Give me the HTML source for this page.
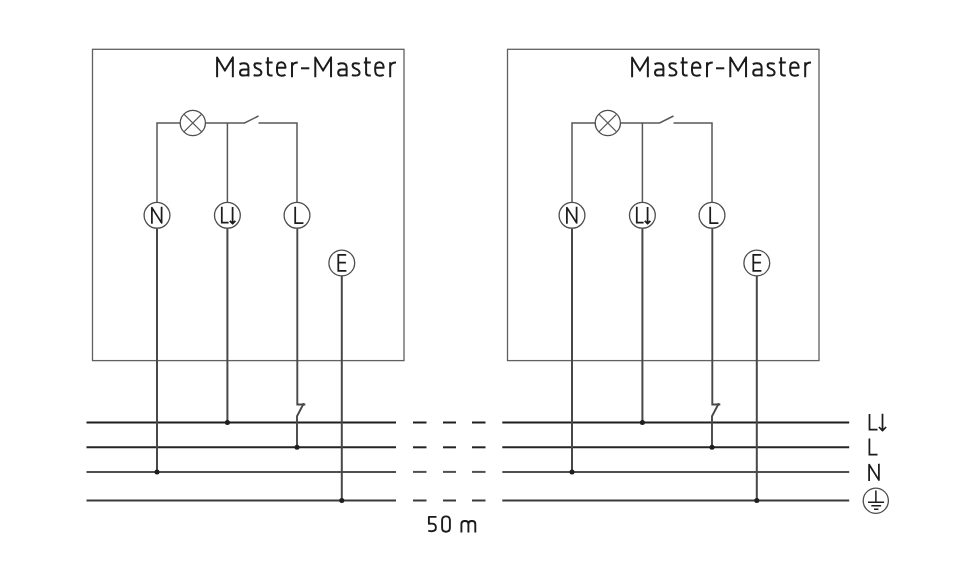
<!DOCTYPE html>
<html><head><meta charset="utf-8"><style>
html,body{margin:0;padding:0;background:#fff;}
svg{display:block;}
</style></head><body>
<svg width="970" height="587" viewBox="0 0 970 587">
<rect width="970" height="587" fill="#fff"/>
<line x1="86.50" y1="422.50" x2="396.00" y2="422.50" stroke="#1e1e1e" stroke-width="2.0"/>
<line x1="413.00" y1="422.50" x2="426.50" y2="422.50" stroke="#1e1e1e" stroke-width="2.0"/>
<line x1="443.00" y1="422.50" x2="456.00" y2="422.50" stroke="#1e1e1e" stroke-width="2.0"/>
<line x1="472.00" y1="422.50" x2="485.50" y2="422.50" stroke="#1e1e1e" stroke-width="2.0"/>
<line x1="502.30" y1="422.50" x2="849.20" y2="422.50" stroke="#1e1e1e" stroke-width="2.0"/>
<line x1="86.50" y1="447.30" x2="396.00" y2="447.30" stroke="#242424" stroke-width="2.0"/>
<line x1="413.00" y1="447.30" x2="426.50" y2="447.30" stroke="#242424" stroke-width="2.0"/>
<line x1="443.00" y1="447.30" x2="456.00" y2="447.30" stroke="#242424" stroke-width="2.0"/>
<line x1="472.00" y1="447.30" x2="485.50" y2="447.30" stroke="#242424" stroke-width="2.0"/>
<line x1="502.30" y1="447.30" x2="849.20" y2="447.30" stroke="#242424" stroke-width="2.0"/>
<line x1="86.50" y1="471.90" x2="396.00" y2="471.90" stroke="#505050" stroke-width="2.0"/>
<line x1="413.00" y1="471.90" x2="426.50" y2="471.90" stroke="#505050" stroke-width="2.0"/>
<line x1="443.00" y1="471.90" x2="456.00" y2="471.90" stroke="#505050" stroke-width="2.0"/>
<line x1="472.00" y1="471.90" x2="485.50" y2="471.90" stroke="#505050" stroke-width="2.0"/>
<line x1="502.30" y1="471.90" x2="849.20" y2="471.90" stroke="#505050" stroke-width="2.0"/>
<line x1="86.50" y1="500.50" x2="396.00" y2="500.50" stroke="#3a3a3a" stroke-width="2.0"/>
<line x1="413.00" y1="500.50" x2="426.50" y2="500.50" stroke="#3a3a3a" stroke-width="2.0"/>
<line x1="443.00" y1="500.50" x2="456.00" y2="500.50" stroke="#3a3a3a" stroke-width="2.0"/>
<line x1="472.00" y1="500.50" x2="485.50" y2="500.50" stroke="#3a3a3a" stroke-width="2.0"/>
<line x1="502.30" y1="500.50" x2="849.20" y2="500.50" stroke="#3a3a3a" stroke-width="2.0"/>
<g transform="translate(0 0)">
<rect x="92.5" y="49.3" width="311.5" height="311.3" fill="none" stroke="#606060" stroke-width="1.3"/>
<g transform="translate(0 0)">
<path d="M217.1,77.3 V57.4 L224.9,70.6 L232.85,57.4 V77.3 M239.6,64.3 C240.8,63.5 242.2,63.3 243.8,63.3 C246.8,63.3 248.4,64.6 248.4,67.6 V76.5 M248.4,69.6 H243.6 C241.2,69.6 240,70.9 240,72.7 C240,74.6 241.3,75.6 243.6,75.6 C245.8,75.6 247.4,75.2 248.4,74.6 M261.5,63.9 C260.3,63.4 258.6,63.3 257,63.3 C255.2,63.3 254.4,64.4 254.4,65.6 C254.4,67.3 255.8,68.2 257.8,68.9 C260.3,69.8 261.4,70.8 261.4,72.6 C261.4,74.6 260,75.6 257.5,75.6 C255.8,75.6 254.7,75.4 253.7,75 M267.9,57.2 V72.8 C267.9,74.8 268.8,75.6 270.6,75.6 H272.6 M265.6,62.6 H272.6 M277.2,67.8 H285.5 C285.5,64.3 283.9,62.3 281.3,62.3 C278.6,62.3 277,64.3 277,67.5 V70.5 C277,73.9 278.7,75.7 281.6,75.7 C283.3,75.7 284.5,75.4 285.5,74.9 M292,77.3 V62.3 M292,66.5 C292.5,63.8 294.5,62.4 297.8,62.4" stroke="#1c1c1c" stroke-width="2.0" fill="none" stroke-linejoin="round"/>
</g>
<g transform="translate(98.2 0)">
<path d="M217.1,77.3 V57.4 L224.9,70.6 L232.85,57.4 V77.3 M239.6,64.3 C240.8,63.5 242.2,63.3 243.8,63.3 C246.8,63.3 248.4,64.6 248.4,67.6 V76.5 M248.4,69.6 H243.6 C241.2,69.6 240,70.9 240,72.7 C240,74.6 241.3,75.6 243.6,75.6 C245.8,75.6 247.4,75.2 248.4,74.6 M261.5,63.9 C260.3,63.4 258.6,63.3 257,63.3 C255.2,63.3 254.4,64.4 254.4,65.6 C254.4,67.3 255.8,68.2 257.8,68.9 C260.3,69.8 261.4,70.8 261.4,72.6 C261.4,74.6 260,75.6 257.5,75.6 C255.8,75.6 254.7,75.4 253.7,75 M267.9,57.2 V72.8 C267.9,74.8 268.8,75.6 270.6,75.6 H272.6 M265.6,62.6 H272.6 M277.2,67.8 H285.5 C285.5,64.3 283.9,62.3 281.3,62.3 C278.6,62.3 277,64.3 277,67.5 V70.5 C277,73.9 278.7,75.7 281.6,75.7 C283.3,75.7 284.5,75.4 285.5,74.9 M292,77.3 V62.3 M292,66.5 C292.5,63.8 294.5,62.4 297.8,62.4" stroke="#1c1c1c" stroke-width="2.0" fill="none" stroke-linejoin="round"/>
</g>
<path d="M301,68.3 H309.3" stroke="#1c1c1c" stroke-width="2.0" fill="none" />
<path d="M157.0,202.4 V122.9 H180.20000000000002" stroke="#585858" stroke-width="1.5" fill="none" />
<circle cx="192.80" cy="123.00" r="12.6" stroke="#4e4e4e" stroke-width="1.3" fill="none"/>
<path d="M183.89054000000002,114.09054 L201.70946,131.90946 M201.70946,114.09054 L183.89054000000002,131.90946" stroke="#585858" stroke-width="1.3" fill="none" />
<path d="M205.4,122.9 H244.6 L258.5,116.0" stroke="#585858" stroke-width="1.5" fill="none" />
<path d="M258.5,122.9 H297.0 V202.4" stroke="#585858" stroke-width="1.5" fill="none" />
<line x1="227.40" y1="122.90" x2="227.40" y2="202.40" stroke="#585858" stroke-width="1.5"/>
<circle cx="157.00" cy="215.30" r="12.9" stroke="#4e4e4e" stroke-width="1.3" fill="none"/>
<circle cx="227.40" cy="215.30" r="12.9" stroke="#4e4e4e" stroke-width="1.3" fill="none"/>
<circle cx="297.00" cy="215.30" r="12.9" stroke="#4e4e4e" stroke-width="1.3" fill="none"/>
<circle cx="341.80" cy="263.00" r="12.9" stroke="#4e4e4e" stroke-width="1.3" fill="none"/>
<line x1="157.00" y1="228.20" x2="157.00" y2="471.90" stroke="#484848" stroke-width="2.0"/>
<line x1="227.40" y1="228.20" x2="227.40" y2="422.50" stroke="#484848" stroke-width="2.0"/>
<line x1="341.80" y1="275.90" x2="341.80" y2="500.50" stroke="#484848" stroke-width="2.0"/>
<path d="M297.3,228.20000000000002 V404.5 H305.3" stroke="#484848" stroke-width="1.9" fill="none" />
<path d="M303.8,403.3 L297.0,416.3 V447.3" stroke="#484848" stroke-width="1.9" fill="none" stroke-linejoin="round"/>
<circle cx="157.00" cy="471.90" r="2.5" fill="#1e1e1e"/>
<circle cx="227.40" cy="422.50" r="2.5" fill="#1e1e1e"/>
<circle cx="297.00" cy="447.30" r="2.5" fill="#1e1e1e"/>
<circle cx="341.80" cy="500.50" r="2.5" fill="#1e1e1e"/>
<path d="M151.9,223.7 V207.6 L161.6,222.9 V206.8" stroke="#1c1c1c" stroke-width="1.75" fill="none" stroke-linejoin="round"/>
<path d="M295.2,206.8 V223 H303.4" stroke="#1c1c1c" stroke-width="1.75" fill="none" />
<path d="M221.8,206.8 V222.5 H228.6" stroke="#1c1c1c" stroke-width="1.75" fill="none" />
<path d="M232.6,207.1 V223.6 M229.8,220.9 L232.6,223.7 L235.4,220.9" stroke="#1c1c1c" stroke-width="1.75" fill="none" stroke-linejoin="round"/>
<path d="M346.2,254.8 H338.3 V270.8 H346.4 M338.3,262.5 H345.9" stroke="#1c1c1c" stroke-width="1.75" fill="none" />
</g>
<g transform="translate(415 0)">
<rect x="92.5" y="49.3" width="311.5" height="311.3" fill="none" stroke="#606060" stroke-width="1.3"/>
<g transform="translate(0 0)">
<path d="M217.1,77.3 V57.4 L224.9,70.6 L232.85,57.4 V77.3 M239.6,64.3 C240.8,63.5 242.2,63.3 243.8,63.3 C246.8,63.3 248.4,64.6 248.4,67.6 V76.5 M248.4,69.6 H243.6 C241.2,69.6 240,70.9 240,72.7 C240,74.6 241.3,75.6 243.6,75.6 C245.8,75.6 247.4,75.2 248.4,74.6 M261.5,63.9 C260.3,63.4 258.6,63.3 257,63.3 C255.2,63.3 254.4,64.4 254.4,65.6 C254.4,67.3 255.8,68.2 257.8,68.9 C260.3,69.8 261.4,70.8 261.4,72.6 C261.4,74.6 260,75.6 257.5,75.6 C255.8,75.6 254.7,75.4 253.7,75 M267.9,57.2 V72.8 C267.9,74.8 268.8,75.6 270.6,75.6 H272.6 M265.6,62.6 H272.6 M277.2,67.8 H285.5 C285.5,64.3 283.9,62.3 281.3,62.3 C278.6,62.3 277,64.3 277,67.5 V70.5 C277,73.9 278.7,75.7 281.6,75.7 C283.3,75.7 284.5,75.4 285.5,74.9 M292,77.3 V62.3 M292,66.5 C292.5,63.8 294.5,62.4 297.8,62.4" stroke="#1c1c1c" stroke-width="2.0" fill="none" stroke-linejoin="round"/>
</g>
<g transform="translate(98.2 0)">
<path d="M217.1,77.3 V57.4 L224.9,70.6 L232.85,57.4 V77.3 M239.6,64.3 C240.8,63.5 242.2,63.3 243.8,63.3 C246.8,63.3 248.4,64.6 248.4,67.6 V76.5 M248.4,69.6 H243.6 C241.2,69.6 240,70.9 240,72.7 C240,74.6 241.3,75.6 243.6,75.6 C245.8,75.6 247.4,75.2 248.4,74.6 M261.5,63.9 C260.3,63.4 258.6,63.3 257,63.3 C255.2,63.3 254.4,64.4 254.4,65.6 C254.4,67.3 255.8,68.2 257.8,68.9 C260.3,69.8 261.4,70.8 261.4,72.6 C261.4,74.6 260,75.6 257.5,75.6 C255.8,75.6 254.7,75.4 253.7,75 M267.9,57.2 V72.8 C267.9,74.8 268.8,75.6 270.6,75.6 H272.6 M265.6,62.6 H272.6 M277.2,67.8 H285.5 C285.5,64.3 283.9,62.3 281.3,62.3 C278.6,62.3 277,64.3 277,67.5 V70.5 C277,73.9 278.7,75.7 281.6,75.7 C283.3,75.7 284.5,75.4 285.5,74.9 M292,77.3 V62.3 M292,66.5 C292.5,63.8 294.5,62.4 297.8,62.4" stroke="#1c1c1c" stroke-width="2.0" fill="none" stroke-linejoin="round"/>
</g>
<path d="M301,68.3 H309.3" stroke="#1c1c1c" stroke-width="2.0" fill="none" />
<path d="M157.0,202.4 V122.9 H180.20000000000002" stroke="#585858" stroke-width="1.5" fill="none" />
<circle cx="192.80" cy="123.00" r="12.6" stroke="#4e4e4e" stroke-width="1.3" fill="none"/>
<path d="M183.89054000000002,114.09054 L201.70946,131.90946 M201.70946,114.09054 L183.89054000000002,131.90946" stroke="#585858" stroke-width="1.3" fill="none" />
<path d="M205.4,122.9 H244.6 L258.5,116.0" stroke="#585858" stroke-width="1.5" fill="none" />
<path d="M258.5,122.9 H297.0 V202.4" stroke="#585858" stroke-width="1.5" fill="none" />
<line x1="227.40" y1="122.90" x2="227.40" y2="202.40" stroke="#585858" stroke-width="1.5"/>
<circle cx="157.00" cy="215.30" r="12.9" stroke="#4e4e4e" stroke-width="1.3" fill="none"/>
<circle cx="227.40" cy="215.30" r="12.9" stroke="#4e4e4e" stroke-width="1.3" fill="none"/>
<circle cx="297.00" cy="215.30" r="12.9" stroke="#4e4e4e" stroke-width="1.3" fill="none"/>
<circle cx="341.80" cy="263.00" r="12.9" stroke="#4e4e4e" stroke-width="1.3" fill="none"/>
<line x1="157.00" y1="228.20" x2="157.00" y2="471.90" stroke="#484848" stroke-width="2.0"/>
<line x1="227.40" y1="228.20" x2="227.40" y2="422.50" stroke="#484848" stroke-width="2.0"/>
<line x1="341.80" y1="275.90" x2="341.80" y2="500.50" stroke="#484848" stroke-width="2.0"/>
<path d="M297.3,228.20000000000002 V404.5 H305.3" stroke="#484848" stroke-width="1.9" fill="none" />
<path d="M303.8,403.3 L297.0,416.3 V447.3" stroke="#484848" stroke-width="1.9" fill="none" stroke-linejoin="round"/>
<circle cx="157.00" cy="471.90" r="2.5" fill="#1e1e1e"/>
<circle cx="227.40" cy="422.50" r="2.5" fill="#1e1e1e"/>
<circle cx="297.00" cy="447.30" r="2.5" fill="#1e1e1e"/>
<circle cx="341.80" cy="500.50" r="2.5" fill="#1e1e1e"/>
<path d="M151.9,223.7 V207.6 L161.6,222.9 V206.8" stroke="#1c1c1c" stroke-width="1.75" fill="none" stroke-linejoin="round"/>
<path d="M295.2,206.8 V223 H303.4" stroke="#1c1c1c" stroke-width="1.75" fill="none" />
<path d="M221.8,206.8 V222.5 H228.6" stroke="#1c1c1c" stroke-width="1.75" fill="none" />
<path d="M232.6,207.1 V223.6 M229.8,220.9 L232.6,223.7 L235.4,220.9" stroke="#1c1c1c" stroke-width="1.75" fill="none" stroke-linejoin="round"/>
<path d="M346.2,254.8 H338.3 V270.8 H346.4 M338.3,262.5 H345.9" stroke="#1c1c1c" stroke-width="1.75" fill="none" />
</g>
<path d="M869.5,414.1 V429.7 H877.5" stroke="#1c1c1c" stroke-width="1.75" fill="none" />
<path d="M882.5,413.7 V430.3 M878.9,427.0 L882.5,430.6 L886.1,427.0" stroke="#1c1c1c" stroke-width="1.75" fill="none" stroke-linejoin="round"/>
<path d="M869.4,438.6 V454.6 H877.5" stroke="#1c1c1c" stroke-width="1.75" fill="none" />
<path d="M869.1,480.9 V464.5 L878.9,480.1 V463.7" stroke="#1c1c1c" stroke-width="1.75" fill="none" stroke-linejoin="round"/>
<circle cx="875.80" cy="500.75" r="12.6" stroke="#4e4e4e" stroke-width="1.3" fill="none"/>
<path d="M875.9,490.5 V502.3 M868,502.3 H884.1 M871.3,505.7 H881.1 M874,509.2 H878.4" stroke="#1c1c1c" stroke-width="1.5" fill="none" />
<path d="M436.5,516.9 H428.9 V523.8 C430,523.6 431,523.6 431.8,523.6 C434.6,523.6 435.9,525.2 435.9,527.5 C435.9,530 434.4,531.2 431.8,531.2 C430.6,531.2 429.3,531 428.3,530.6 M442.1,520.3 C442.1,517.8 443.5,516.4 446,516.4 C448.5,516.4 449.9,517.8 449.9,520.3 V527.8 C449.9,530.3 448.5,531.7 446,531.7 C443.5,531.7 442.1,530.3 442.1,527.8 Z M461.4,532.6 V524 C461.4,521.8 462.4,521 464.6,521 H465.4 C467.4,521 468.4,522 468.4,524 V532.6 M468.4,524 C468.4,522 469.4,521 471.6,521 H472.2 C474.3,521 475.3,522 475.3,524 V532.6" stroke="#1c1c1c" stroke-width="1.9" fill="none" stroke-linejoin="round"/>
</svg></body></html>
